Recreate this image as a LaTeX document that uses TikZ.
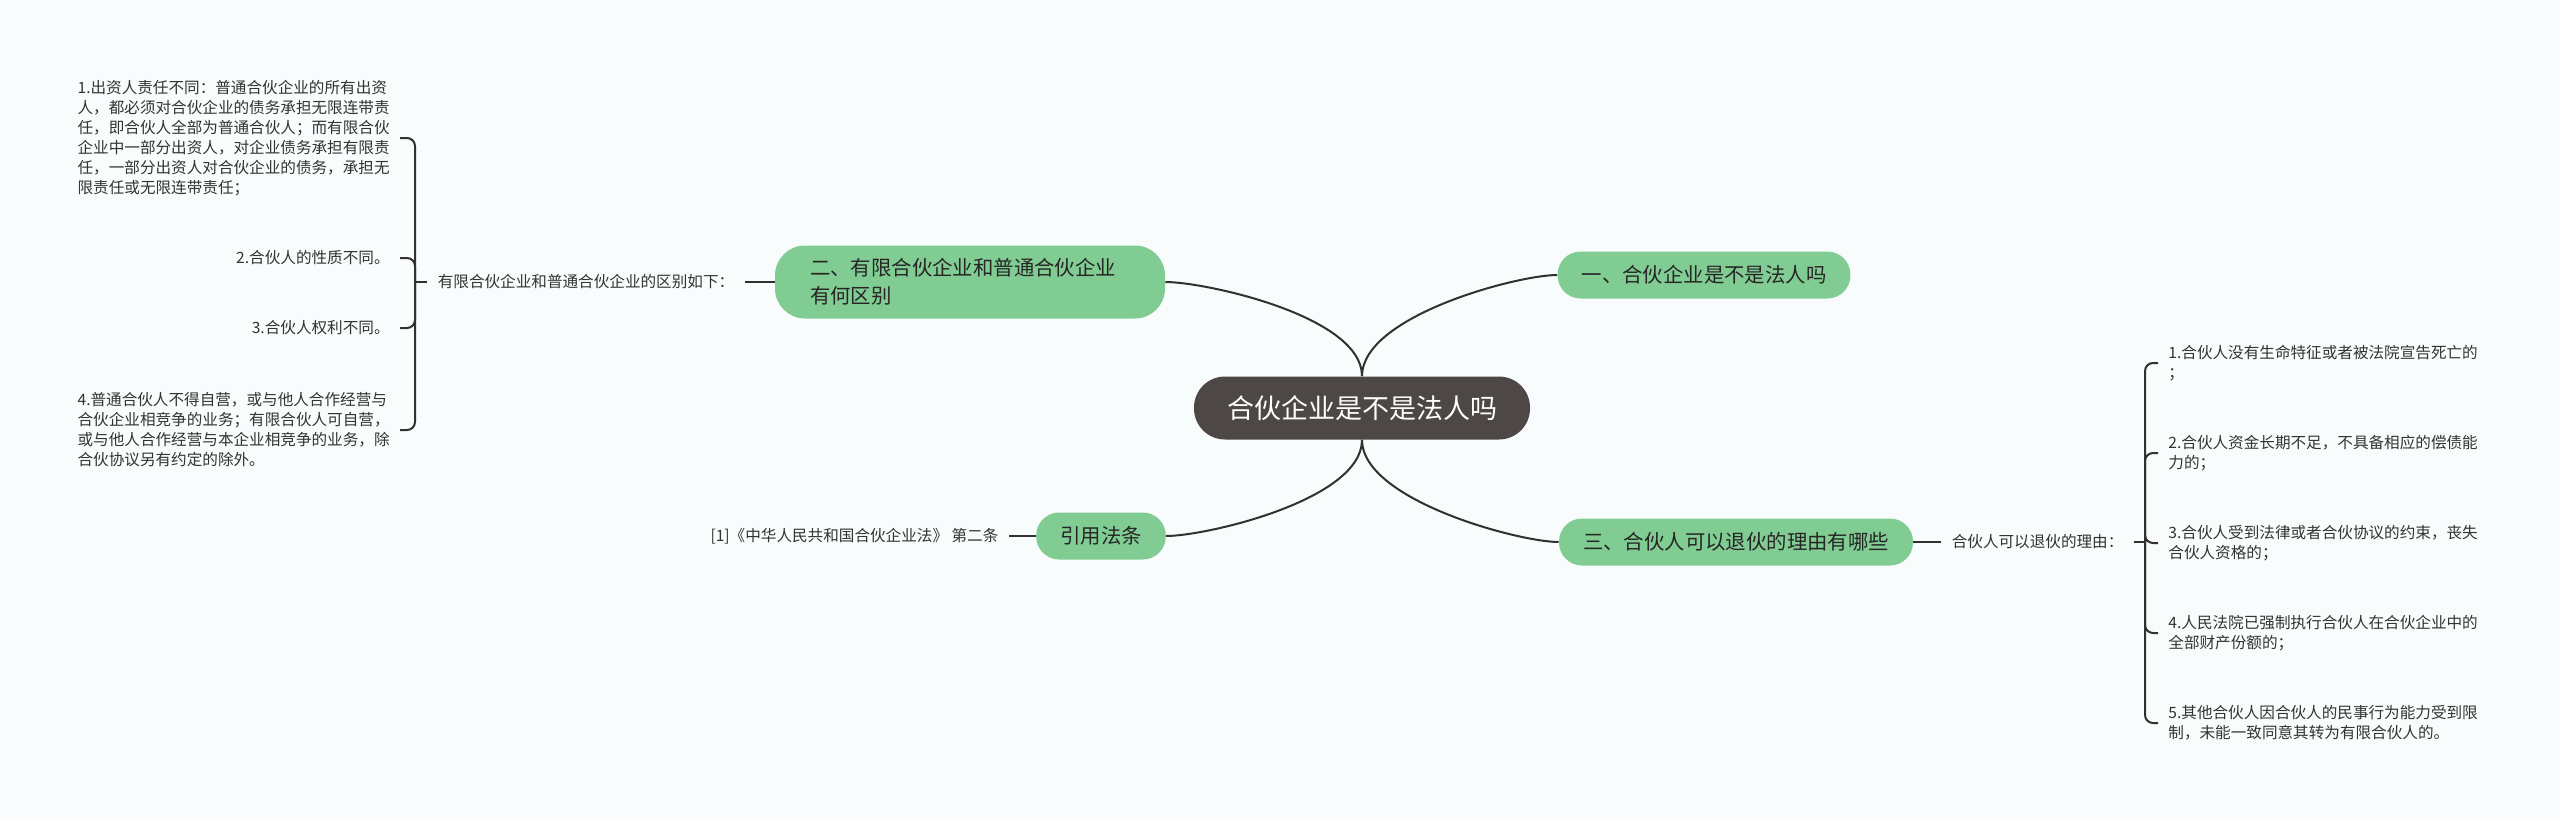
\documentclass[tikz,border=0pt]{standalone}
\usepackage{fontspec}
\setmainfont{Noto Sans CJK SC}
\usetikzlibrary{positioning}

\definecolor{bgcol}{RGB}{248,252,253}
\definecolor{rootcol}{RGB}{77,71,70}
\definecolor{topiccol}{RGB}{128,204,146}
\definecolor{linecol}{RGB}{51,48,48}
\definecolor{leafcol}{RGB}{51,51,51}

\tikzset{
  root/.style={fill=rootcol, text=white, rounded corners=15.5pt, minimum height=31.5pt,
    inner xsep=16.5pt, font=\fontsize{13.5pt}{16pt}\selectfont},
  topic/.style={fill=topiccol, text=black!85, rounded corners=11.5pt, minimum height=23.5pt,
    inner xsep=12pt, align=left, font=\fontsize{10.2pt}{14pt}\selectfont},
  leaf/.style={text=leafcol, inner xsep=5pt, inner ysep=2pt, align=left,
    font=\fontsize{7.8pt}{10pt}\selectfont},
  link/.style={draw=linecol, line width=1pt},
  brace/.style={draw=linecol, line width=1pt, rounded corners=4pt},
}

\begin{document}
\begin{tikzpicture}[x=0.5pt, y=-0.5pt]
	\fill[bgcol] (0,0) rectangle (2560,819);
	\useasboundingbox (0,0) rectangle (2560,819);

	\node[root]  (root) at (1362,408) {合伙企业是不是法人吗};
	\node[topic] (t1)   at (1704,275) {一、合伙企业是不是法人吗};
	\node[topic, text width=160pt, rounded corners=15pt, inner xsep=17.5pt,
	      minimum height=36.5pt] (t2) at (970,282) {二、有限合伙企业和普通合伙企业\\有何区别};
	\node[topic] (t3)   at (1736,542) {三、合伙人可以退伙的理由有哪些};
	\node[topic] (tref) at (1101,536) {引用法条};

	\draw[link] (root.north) .. controls +(0,-60) and +(40,0)  .. (t2.east);
	\draw[link] (root.north) .. controls +(0,-60) and +(-40,0) .. (t1.west);
	\draw[link] (root.south) .. controls +(0,60)  and +(40,0)  .. (tref.east);
	\draw[link] (root.south) .. controls +(0,60)  and +(-40,0) .. (t3.west);

	\node[leaf, left=15pt of t2]    (l2)   {有限合伙企业和普通合伙企业的区别如下：};
	\node[leaf, left=13.5pt of tref] (lref) {[1]《中华人民共和国合伙企业法》 第二条};
	\node[leaf, right=14pt of t3]   (l3)   {合伙人可以退伙的理由：};

	\draw[link] (t2.west)   -- (l2.east);
	\draw[link] (tref.west) -- (lref.east);
	\draw[link] (t3.east)   -- (l3.west);

	\node[leaf, anchor=east] (a1) at (400,138) {1.出资人责任不同：普通合伙企业的所有出资\\人，都必须对合伙企业的债务承担无限连带责\\任，即合伙人全部为普通合伙人；而有限合伙\\企业中一部分出资人，对企业债务承担有限责\\任，一部分出资人对合伙企业的债务，承担无\\限责任或无限连带责任；};
	\node[leaf, anchor=east] (a2) at (400,258) {2.合伙人的性质不同。};
	\node[leaf, anchor=east] (a3) at (400,328) {3.合伙人权利不同。};
	\node[leaf, anchor=east] (a4) at (400,430) {4.普通合伙人不得自营，或与他人合作经营与\\合伙企业相竞争的业务；有限合伙人可自营，\\或与他人合作经营与本企业相竞争的业务，除\\合伙协议另有约定的除外。};

	\node[leaf, anchor=west] (b1) at (2158,363) {1.合伙人没有生命特征或者被法院宣告死亡的\\；};
	\node[leaf, anchor=west] (b2) at (2158,453) {2.合伙人资金长期不足，不具备相应的偿债能\\力的；};
	\node[leaf, anchor=west] (b3) at (2158,543) {3.合伙人受到法律或者合伙协议的约束，丧失\\合伙人资格的；};
	\node[leaf, anchor=west] (b4) at (2158,633) {4.人民法院已强制执行合伙人在合伙企业中的\\全部财产份额的；};
	\node[leaf, anchor=west] (b5) at (2158,723) {5.其他合伙人因合伙人的民事行为能力受到限\\制，未能一致同意其转为有限合伙人的。};

	\path (l2.west -| a1.east) ++(15,0)  coordinate (bl);
	\path (l3.east -| b1.west) ++(-13,0) coordinate (br);
	\draw[link] (l2.west) -- (bl);
	\draw[link] (l3.east) -- (br);
	\foreach \i in {a1,a2,a3,a4}
		\draw[brace] (bl) |- (\i.east);
	\foreach \i in {b1,b2,b3,b4,b5}
		\draw[brace] (br) |- (\i.west);
\end{tikzpicture}
\end{document}
